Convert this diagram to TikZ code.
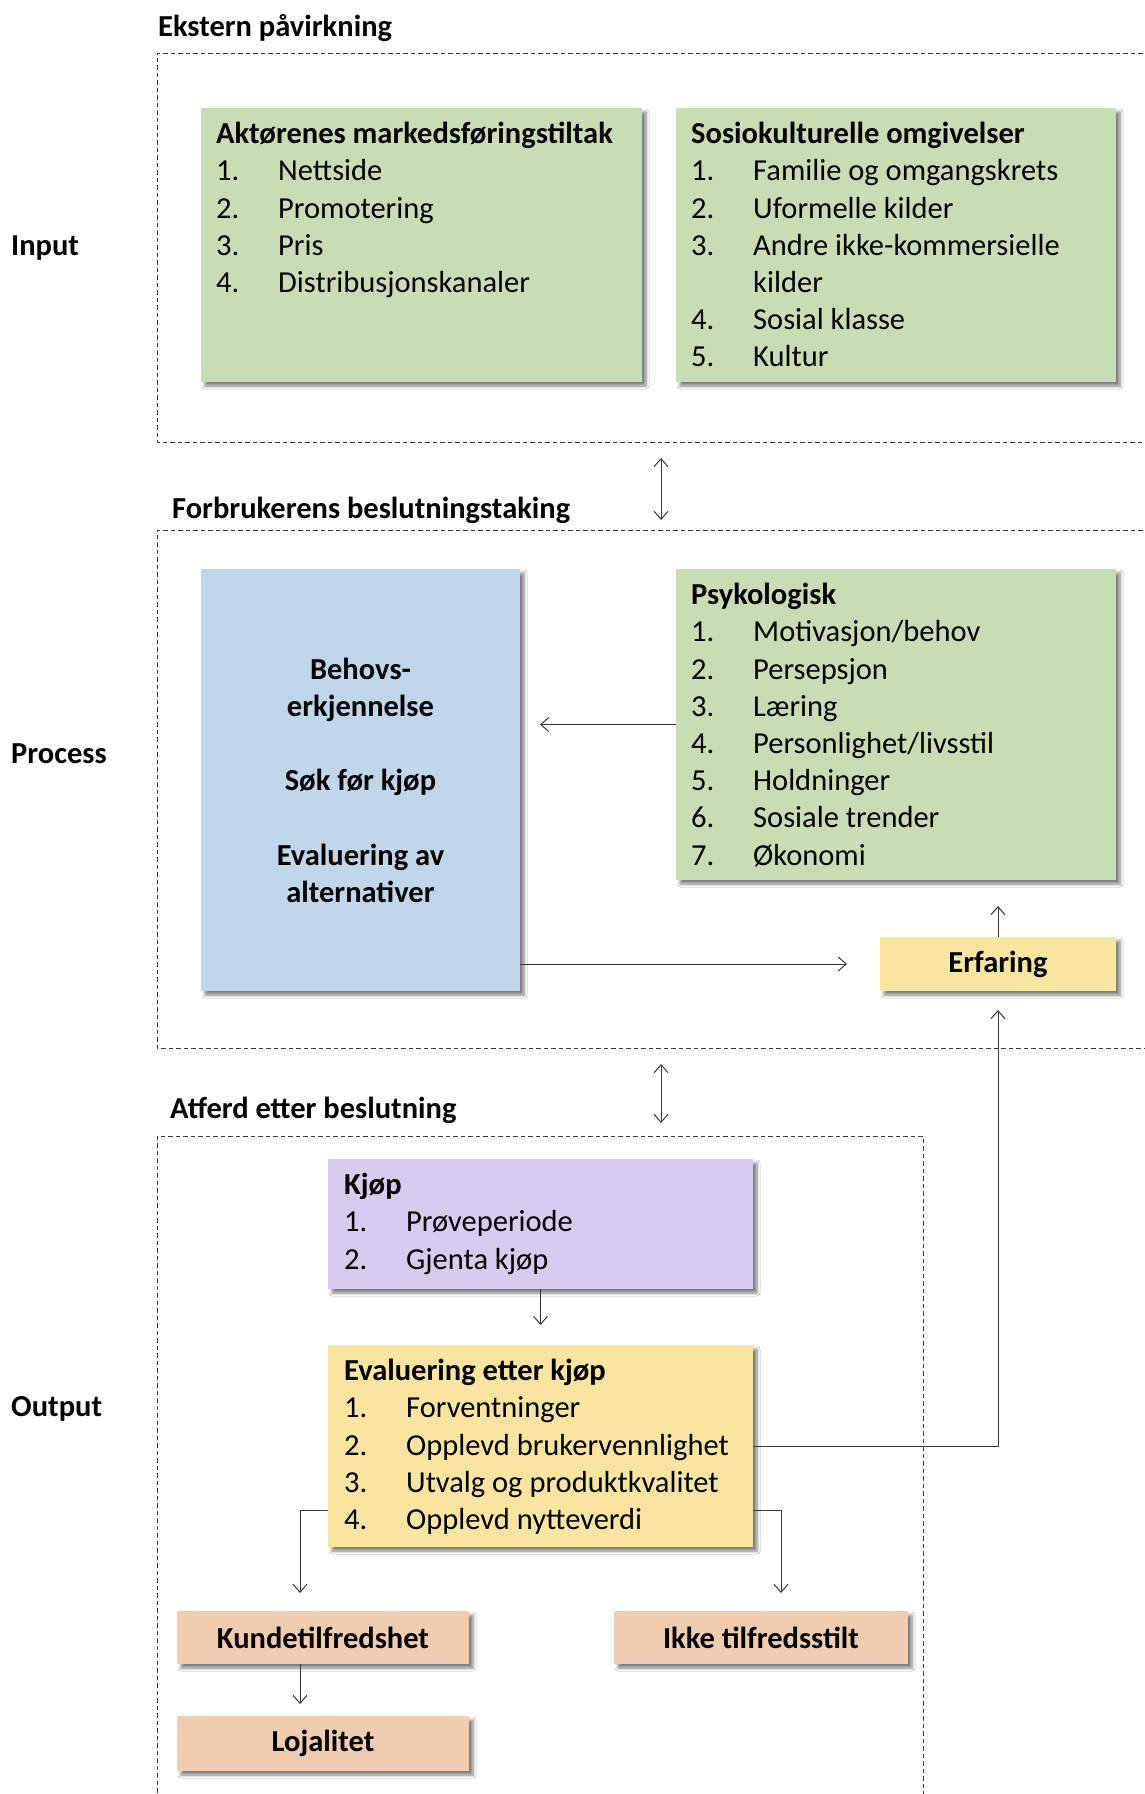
\documentclass[tikz,border=0pt]{standalone}
\usepackage{fontspec}
\setmainfont{Carlito}
\usetikzlibrary{arrows.meta,shadows.blur,calc}
\definecolor{bgreen}{HTML}{C9DDB4}
\definecolor{bblue}{HTML}{C0D6EB}
\definecolor{bpurple}{HTML}{D8CBF0}
\definecolor{byellow}{HTML}{F9E4A0}
\definecolor{bpeach}{HTML}{F0CCB0}
\definecolor{lnc}{HTML}{383838}
\newcommand{\numit}[1]{\makebox[62pt][l]{#1}}
\begin{document}
\begin{tikzpicture}[x=1pt,y=-1pt,
  box/.style={draw=none, inner sep=0pt, outer sep=0pt, anchor=north west,
    blur shadow={shadow xshift=4pt, shadow yshift=-4pt, shadow blur steps=6, shadow blur radius=3pt, shadow opacity=50}},
  txt/.style={font=\fontsize{30.5}{37.2}\selectfont, inner sep=0pt, anchor=north west, align=left},
  btxt/.style={font=\bfseries\fontsize{30.5}{37.2}\selectfont, inner sep=0pt},
  frame/.style={draw=lnc, line width=1pt, dash pattern=on 4.5pt off 3pt},
  arr/.style={draw=lnc, line width=1pt, -{Straight Barb[length=8pt,width=14pt]}},
  arrb/.style={draw=lnc, line width=1pt, {Straight Barb[length=8pt,width=14pt]}-{Straight Barb[length=8pt,width=14pt]}}
]
\useasboundingbox[fill=white] (0,0) rectangle (1145,1794);

% section frames
\draw[frame] (1150,53) -- (157,53) -- (157,442) -- (1150,442);
\draw[frame] (1150,530) -- (157,530) -- (157,1048) -- (1150,1048);
\draw[frame] (157,1800) -- (157,1136) -- (923,1136) -- (923,1800);

% side and section labels
\node[btxt, anchor=west] (lin) at (11,248) {Input};
\node[btxt, anchor=west] (lpr) at (11,754) {Process};
\node[btxt, anchor=west] (lout) at (11,1409) {Output};
\node[btxt, anchor=west] (sek) at (158,28) {Ekstern påvirkning};
\node[btxt, anchor=west] (sfb) at (172,510) {Forbrukerens beslutningstaking};
\node[btxt, anchor=west] (sat) at (170,1110) {Atferd etter beslutning};

% input boxes
\node[box, fill=bgreen, minimum width=441pt, minimum height=274pt] (akt) at (201,108) {};
\node[txt] (akttxt) at ($(akt.north west)+(15,14)$) {\textbf{Aktørenes markedsføringstiltak}\\
\numit{1.}Nettside\\ \numit{2.}Promotering\\ \numit{3.}Pris\\ \numit{4.}Distribusjonskanaler};

\node[box, fill=bgreen, minimum width=440pt, minimum height=274pt] (sos) at (676,108) {};
\node[txt] (sostxt) at ($(sos.north west)+(15,14)$) {\textbf{Sosiokulturelle omgivelser}\\
\numit{1.}Familie og omgangskrets\\ \numit{2.}Uformelle kilder\\ \numit{3.}Andre ikke-kommersielle\\
\numit{}kilder\\ \numit{4.}Sosial klasse\\ \numit{5.}Kultur};

% process boxes
\node[box, fill=bblue, minimum width=319pt, minimum height=422pt, btxt, align=center] (blue) at (201,569)
  {Behovs-\\erkjennelse\\[37.2pt]Søk før kjøp\\[37.2pt]Evaluering av\\alternativer};

\node[box, fill=bgreen, minimum width=440pt, minimum height=311pt] (psy) at (676,569) {};
\node[txt] (psytxt) at ($(psy.north west)+(15,14)$) {\textbf{Psykologisk}\\
\numit{1.}Motivasjon/behov\\ \numit{2.}Persepsjon\\ \numit{3.}Læring\\ \numit{4.}Personlighet/livsstil\\
\numit{5.}Holdninger\\ \numit{6.}Sosiale trender\\ \numit{7.}Økonomi};

\node[box, fill=byellow, minimum width=236pt, minimum height=54pt, btxt] (erf) at (880,937) {Erfaring};

% output boxes
\node[box, fill=bpurple, minimum width=425pt, minimum height=130pt] (kjop) at (328,1159) {};
\node[txt] (kjoptxt) at ($(kjop.north west)+(16,14)$) {\textbf{Kjøp}\\
\numit{1.}Prøveperiode\\ \numit{2.}Gjenta kjøp};

\node[box, fill=byellow, minimum width=425pt, minimum height=202pt] (eval) at (328,1345) {};
\node[txt] (evaltxt) at ($(eval.north west)+(16,14)$) {\textbf{Evaluering etter kjøp}\\
\numit{1.}Forventninger\\ \numit{2.}Opplevd brukervennlighet\\ \numit{3.}Utvalg og produktkvalitet\\ \numit{4.}Opplevd nytteverdi};

\node[box, fill=bpeach, minimum width=292pt, minimum height=53pt, btxt] (kunde) at (177,1611) {Kundetilfredshet};
\node[box, fill=bpeach, minimum width=294pt, minimum height=53pt, btxt] (ikke) at (614,1611) {Ikke tilfredsstilt};
\node[box, fill=bpeach, minimum width=292pt, minimum height=55pt, btxt] (loj) at (177,1716) {Lojalitet};

% connectors
\coordinate (da1) at (661,458);
\coordinate (da2) at (661,520);
\coordinate (db1) at (661,1064);
\coordinate (db2) at (661,1123);
\draw[arrb] (da1) -- (da2);
\draw[arrb] (db1) -- (db2);

\draw[arr] (psy.west) -- ++(-136,0);
\draw[arr] (blue.east |- erf.west) -- ($(erf.west)+(-33,0)$);
\draw[arr] (erf.north) -- ++(0,-31);
\draw[arr] (eval.east) -| ($(erf.south)+(0,19)$);
\draw[arr] (kjop.south) -- ++(0,36);
\coordinate (el) at ($(eval.south west)+(0,-37)$);
\coordinate (er) at ($(eval.south east)+(0,-37)$);
\coordinate (kt) at ($(kunde.north)+(-23,-18)$);
\coordinate (it) at ($(ikke.north)+(20,-18)$);
\draw[arr] (el) -| (kt);
\draw[arr] (er) -| (it);
\draw[arr] ($(kunde.south)+(-23,0)$) -- ($(loj.north)+(-23,-12)$);
\end{tikzpicture}
\end{document}
